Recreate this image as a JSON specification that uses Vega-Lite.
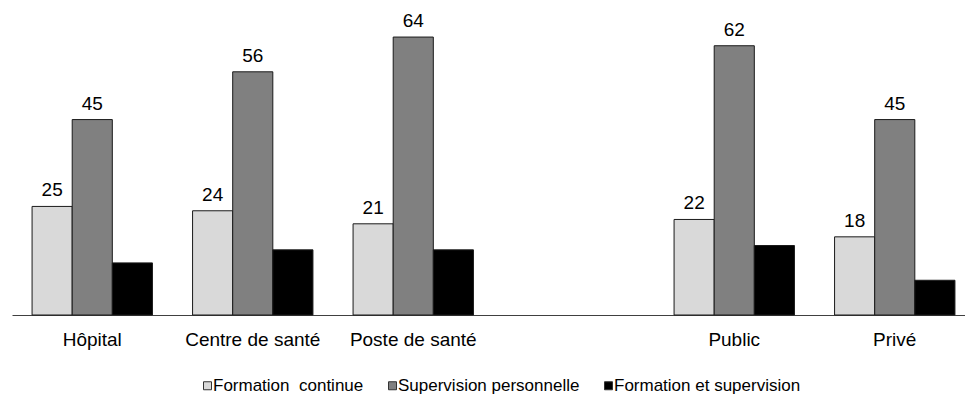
{
  "$schema": "https://vega.github.io/schema/vega-lite/v6.json",
  "width": 953,
  "height": 304,
  "autosize": "none",
  "padding": {"left": 12, "top": 11, "right": 0, "bottom": 79},
  "background": "white",
  "config": {"view": {"stroke": null}, "font": "Liberation Sans"},
  "data": {
    "values": [
      {"cat": "Hôpital", "serie": "Formation  continue", "val": 25},
      {"cat": "Hôpital", "serie": "Supervision personnelle", "val": 45},
      {"cat": "Hôpital", "serie": "Formation et supervision", "val": 12},
      {"cat": "Centre de santé", "serie": "Formation  continue", "val": 24},
      {"cat": "Centre de santé", "serie": "Supervision personnelle", "val": 56},
      {"cat": "Centre de santé", "serie": "Formation et supervision", "val": 15},
      {"cat": "Poste de santé", "serie": "Formation  continue", "val": 21},
      {"cat": "Poste de santé", "serie": "Supervision personnelle", "val": 64},
      {"cat": "Poste de santé", "serie": "Formation et supervision", "val": 15},
      {"cat": "Public", "serie": "Formation  continue", "val": 22},
      {"cat": "Public", "serie": "Supervision personnelle", "val": 62},
      {"cat": "Public", "serie": "Formation et supervision", "val": 16},
      {"cat": "Privé", "serie": "Formation  continue", "val": 18},
      {"cat": "Privé", "serie": "Supervision personnelle", "val": 45},
      {"cat": "Privé", "serie": "Formation et supervision", "val": 8}
    ]
  },
  "encoding": {
    "x": {
      "field": "cat",
      "type": "nominal",
      "scale": {
        "domain": ["Hôpital", "Centre de santé", "Poste de santé", " ", "Public", "Privé"],
        "range": [0, 963],
        "paddingInner": 0.25,
        "paddingOuter": 0.125
      },
      "axis": {
        "title": null,
        "labelAngle": 0,
        "ticks": false,
        "labelFontSize": 19,
        "labelPadding": 15,
        "labelColor": "#000000",
        "labelFont": "Liberation Sans",
        "domainColor": "#404040",
        "domainWidth": 1,
        "grid": false
      }
    },
    "xOffset": {
      "field": "serie",
      "type": "nominal",
      "scale": {
        "domain": ["Formation  continue", "Supervision personnelle", "Formation et supervision"],
        "paddingInner": 0,
        "paddingOuter": 0
      }
    },
    "y": {
      "field": "val",
      "type": "quantitative",
      "scale": {"domain": [0, 70]},
      "axis": null
    }
  },
  "layer": [
    {
      "mark": {"type": "bar", "stroke": "#1a1a1a", "strokeWidth": 1},
      "encoding": {
        "fill": {
          "field": "serie",
          "type": "nominal",
          "scale": {
            "domain": ["Formation  continue", "Supervision personnelle", "Formation et supervision"],
            "range": ["#d9d9d9", "#808080", "#000000"]
          },
          "legend": {
            "title": null,
            "orient": "none",
            "legendX": 187,
            "legendY": 366,
            "direction": "horizontal",
            "symbolType": "square",
            "symbolSize": 64,
            "symbolStrokeColor": "#333333",
            "symbolStrokeWidth": 1,
            "labelFontSize": 17,
            "labelFont": "Liberation Sans",
            "labelColor": "#000000",
            "labelOffset": -3,
            "columnPadding": 20,
            "padding": 0,
            "labelLimit": 0,
            "labelExpr": "datum.label == 'Formation  continue' ? 'Formation\u00a0 continue' : datum.label"
          }
        }
      }
    },
    {
      "transform": [{"filter": "datum.serie !== 'Formation et supervision'"}],
      "mark": {
        "type": "text",
        "baseline": "alphabetic",
        "dy": -10,
        "fontSize": 19,
        "font": "Liberation Sans",
        "color": "#000000"
      },
      "encoding": {
        "text": {"field": "val", "type": "quantitative"}
      }
    }
  ]
}
